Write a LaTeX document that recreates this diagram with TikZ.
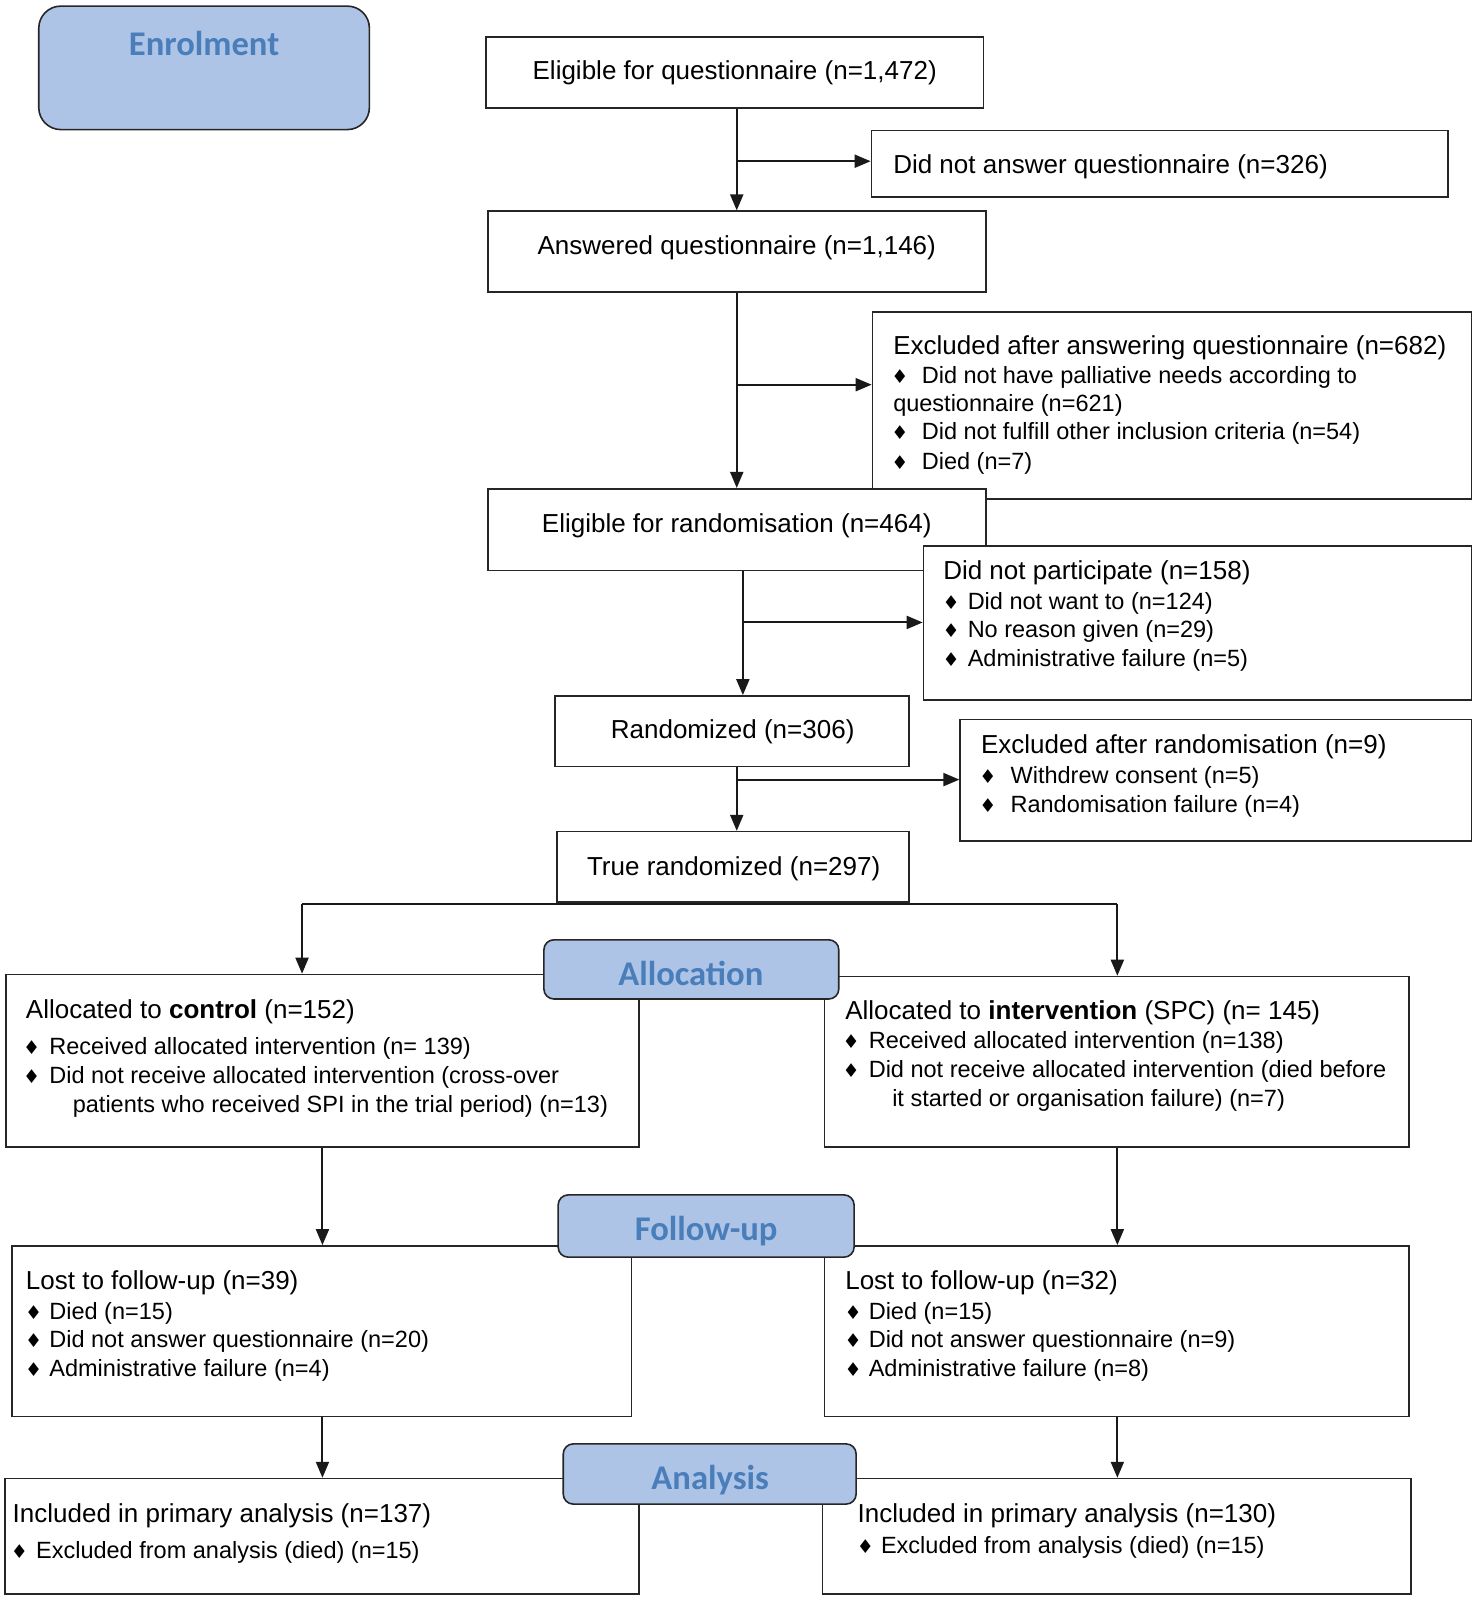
\documentclass[tikz,border=0pt]{standalone}
\usepackage{fontspec}
\setmainfont{Liberation Sans}
\newfontfamily\titlefont{Carlito}
\newfontfamily\symfont{DejaVu Sans}
\usetikzlibrary{arrows.meta,fit}
\definecolor{lblfill}{RGB}{174,196,230}
\definecolor{lbltext}{RGB}{74,126,187}
\newcommand\tx[3]{\node[txt] (#1) at (#2) {#3};}
\newcommand\sx[3]{\node[stxt] (#1) at (#2) {#3};}
\newcommand\cx[3]{\node[ctxt] (#1) at (#2) {#3};}
\newcommand\bu[2]{\node[bul] (#1) at (#2) {♦};}
\begin{document}
\begin{tikzpicture}[x=0.51pt,y=-0.51pt,
 box/.style={draw=black!85,line width=0.8pt,inner sep=0pt,fill=white},
 lbl/.style={draw=black!85,line width=0.8pt,fill=lblfill,rounded corners=5pt,inner sep=0pt},
 ttl/.style={font=\titlefont\bfseries\fontsize{17.3}{17.3}\selectfont,text=lbltext,anchor=base,inner sep=0pt},
 txt/.style={font=\fontsize{13}{13}\selectfont,anchor=base west,inner sep=0pt},
 stxt/.style={font=\fontsize{11.75}{11.75}\selectfont,anchor=base west,inner sep=0pt},
 ctxt/.style={txt,anchor=base},
 bul/.style={font=\symfont\fontsize{9.5}{9.5}\selectfont,anchor=base,inner sep=0pt},
 conn/.style={draw=black!90,line width=1pt},
 arr/.style={conn,-{Triangle[length=8pt,width=6.5pt]}},
]
\useasboundingbox (0,0) rectangle (1448,1568);
% boxes
\node[box,fit={(476,36)(964,106)}] (q1) {};
\node[box,fit={(854,128)(1419,193)}] (q2) {};
\node[box,fit={(478,207)(966,286)}] (q3) {};
\node[box,fit={(855,306)(1442,489)}] (ex1) {};
\node[box,fit={(478,479)(966,559)}] (q4) {};
\node[box,fit={(905,535)(1442,686)}] (dnp) {};
\node[box,fit={(544,682)(891,751)}] (rnd) {};
\node[box,fit={(941,705)(1442,824)}] (ex2) {};
\node[box,fit={(546,815)(891,884)}] (trnd) {};
\node[box,fit={(6,955)(626,1124)}] (ac) {};
\node[box,fit={(808,957)(1381,1124)}] (ai) {};
\node[box,fit={(12,1221)(619,1388)}] (fc) {};
\node[box,fit={(808,1221)(1381,1388)}] (fi) {};
\node[box,fit={(5,1449)(626,1562)}] (nc) {};
\node[box,fit={(806,1449)(1383,1562)}] (ni) {};
% connectors
\coordinate (j1) at (722,158);
\draw[arr] (j1 |- q1.south) -- (j1 |- q3.north);
\draw[arr] (j1) -- (j1 -| q2.west);
\coordinate (j2) at (722,377);
\draw[arr] (j2 |- q3.south) -- (j2 |- q4.north);
\draw[arr] (j2) -- (j2 -| ex1.west);
\coordinate (j3) at (728,610);
\draw[arr] (j3 |- q4.south) -- (j3 |- rnd.north);
\draw[arr] (j3) -- (j3 -| dnp.west);
\coordinate (j4) at (722,764);
\draw[arr] (j4 |- rnd.south) -- (j4 |- trnd.north);
\draw[arr] (j4) -- (j4 -| ex2.west);
\coordinate (sL) at (296,886);
\coordinate (sR) at (1095,886);
\draw[conn] (sL) -- (sR);
\draw[arr] (sL) -- (sL |- ac.north);
\draw[arr] (sR) -- (sR |- ai.north);
\coordinate (xc) at (316,0);
\coordinate (xi) at (1095,0);
\draw[arr] (xc |- ac.south) -- (xc |- fc.north);
\draw[arr] (xc |- fc.south) -- (xc |- nc.north);
\draw[arr] (xi |- ai.south) -- (xi |- fi.north);
\draw[arr] (xi |- fi.south) -- (xi |- ni.north);
% stage labels
\node[lbl,rounded corners=11pt,fit={(38,6)(362,127)}] (enr) {};
\node[lbl,fit={(533,921)(822,979)}] (alo) {};
\node[lbl,fit={(547,1171)(837,1232)}] (fol) {};
\node[lbl,fit={(552,1415)(839,1474)}] (ana) {};
\node[ttl] (tenr) at (200,54) {Enrolment};
\node[ttl] (talo) at (677,966) {Allocation};
\node[ttl] (tfol) at (692,1216) {Follow-up};
\node[ttl] (tana) at (696,1460) {Analysis};
% texts
\cx{t1}{720,78}{Eligible for questionnaire (n=1,472)}
\tx{t2}{875,170}{Did not answer questionnaire (n=326)}
\cx{t3}{722,249}{Answered questionnaire (n=1,146)}
\tx{t4}{875,347}{Excluded after answering questionnaire (n=682)}
\bu{b41}{882,376}\sx{t41}{903,376}{Did not have palliative needs according to}
\sx{t42}{875,403}{questionnaire (n=621)}
\bu{b43}{882,431}\sx{t43}{903,431}{Did not fulfill other inclusion criteria (n=54)}
\bu{b44}{882,460}\sx{t44}{903,460}{Died (n=7)}
\cx{t5}{722,522}{Eligible for randomisation (n=464)}
\tx{t6}{924,568}{Did not participate (n=158)}
\bu{b61}{932,597}\sx{t61}{948,597}{Did not want to (n=124)}
\bu{b62}{932,625}\sx{t62}{948,625}{No reason given (n=29)}
\bu{b63}{932,653}\sx{t63}{948,653}{Administrative failure (n=5)}
\cx{t7}{718,724}{Randomized (n=306)}
\tx{t8}{961,738}{Excluded after randomisation (n=9)}
\bu{b81}{968,768}\sx{t81}{990,768}{Withdrew consent (n=5)}
\bu{b82}{968,796}\sx{t82}{990,796}{Randomisation failure (n=4)}
\cx{t9}{719,858}{True randomized (n=297)}
\tx{t10}{25,998}{Allocated to \textbf{control} (n=152)}
\bu{b101}{31,1033}\sx{t101}{48,1033}{Received allocated intervention (n= 139)}
\bu{b102}{31,1062}\sx{t102}{48,1062}{Did not receive allocated intervention (cross-over}
\sx{t103}{71,1090}{patients who received SPI in the trial period) (n=13)}
\tx{t11}{828,999}{Allocated to \textbf{intervention} (SPC) (n= 145)}
\bu{b111}{834,1028}\sx{t111}{851,1028}{Received allocated intervention (n=138)}
\bu{b112}{834,1056}\sx{t112}{851,1056}{Did not receive allocated intervention (died before}
\sx{t113}{874,1084}{it started or organisation failure) (n=7)}
\tx{t12}{25,1264}{Lost to follow-up (n=39)}
\bu{b121}{33,1293}\sx{t121}{48,1293}{Died (n=15)}
\bu{b122}{33,1321}\sx{t122}{48,1321}{Did not answer questionnaire (n=20)}
\bu{b123}{33,1349}\sx{t123}{48,1349}{Administrative failure (n=4)}
\tx{t13}{828,1264}{Lost to follow-up (n=32)}
\bu{b131}{836,1293}\sx{t131}{851,1293}{Died (n=15)}
\bu{b132}{836,1321}\sx{t132}{851,1321}{Did not answer questionnaire (n=9)}
\bu{b133}{836,1349}\sx{t133}{851,1349}{Administrative failure (n=8)}
\tx{t14}{12,1492}{Included in primary analysis (n=137)}
\bu{b141}{19,1527}\sx{t141}{35,1527}{Excluded from analysis (died) (n=15)}
\tx{t15}{840,1492}{Included in primary analysis (n=130)}
\bu{b151}{848,1522}\sx{t151}{863,1522}{Excluded from analysis (died) (n=15)}
\end{tikzpicture}
\end{document}
